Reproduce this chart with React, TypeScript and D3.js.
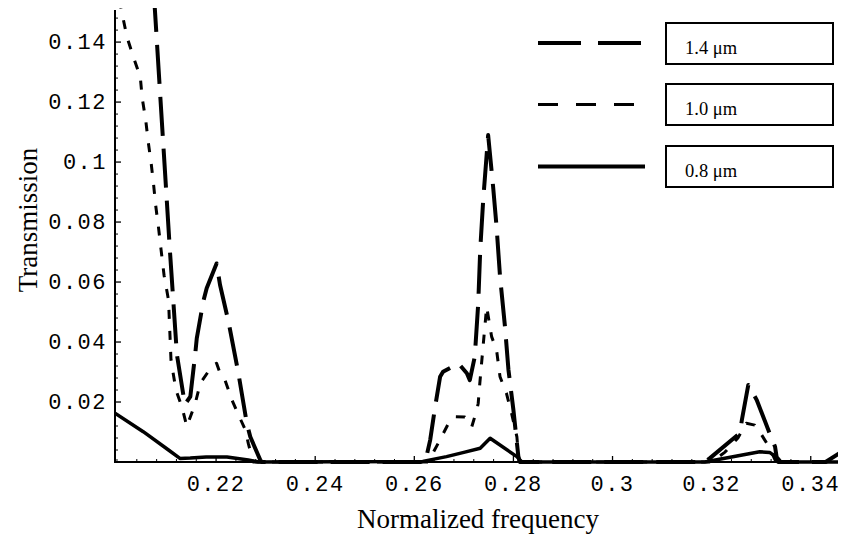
import React from 'react';
import * as d3 from 'd3';

// ---- data ----
const f14 = [0.1996, 0.2107, 0.2121, 0.2137, 0.2148, 0.2158, 0.2161, 0.2174, 0.2181, 0.2201, 0.2208, 0.2225, 0.2245, 0.2262, 0.2269, 0.2289, 0.2292, 0.2622, 0.2632, 0.2642, 0.2652, 0.2658, 0.2689, 0.2706, 0.2712, 0.2722, 0.2729, 0.2733, 0.2739, 0.2749, 0.2759, 0.2766, 0.2773, 0.2783, 0.279, 0.28, 0.281, 0.2813, 0.3186, 0.3196, 0.3257, 0.3261, 0.3274, 0.3291, 0.3317, 0.3328, 0.3332, 0.3334, 0.343, 0.3462];
const t14 = [0.364, 0.070, 0.0357, 0.0192, 0.0218, 0.0362, 0.0412, 0.0534, 0.0579, 0.0662, 0.059, 0.0468, 0.0296, 0.0129, 0.0084, 0.0007, 0, 0, 0.0073, 0.0184, 0.0284, 0.0301, 0.0329, 0.0296, 0.0273, 0.0351, 0.0529, 0.0707, 0.0873, 0.109, 0.0918, 0.0784, 0.0618, 0.0451, 0.0307, 0.0173, 0.0018, 0, 0, 0.0012, 0.0096, 0.014, 0.0257, 0.0207, 0.0096, 0.0051, 0.0007, 0, 0, 0.0034];

const f10 = [0.1996, 0.2011, 0.2020, 0.2033, 0.2047, 0.2051, 0.2058, 0.2063, 0.2069, 0.2074, 0.2078, 0.2084, 0.2089, 0.2095, 0.2104, 0.2109, 0.2119, 0.2131, 0.2141, 0.2158, 0.2168, 0.2191, 0.2201, 0.2208, 0.2218, 0.2232, 0.2248, 0.2259, 0.2265, 0.2275, 0.2628, 0.2648, 0.2655, 0.2669, 0.2682, 0.2702, 0.2716, 0.2726, 0.2729, 0.2731, 0.2739, 0.2746, 0.2756, 0.2766, 0.2773, 0.2786, 0.2797, 0.2807, 0.2811, 0.2813, 0.32, 0.3227, 0.3253, 0.327, 0.3287, 0.3301, 0.3317, 0.3328, 0.3332];
const t10 = [0.161, 0.149, 0.1418, 0.1351, 0.1284, 0.1212, 0.114, 0.1068, 0.0996, 0.0923, 0.0857, 0.0779, 0.0707, 0.0623, 0.054, 0.034, 0.024, 0.0184, 0.0118, 0.0196, 0.0262, 0.0318, 0.0329, 0.0296, 0.0273, 0.0207, 0.0147, 0.0107, 0.0062, 0, 0, 0.0062, 0.0084, 0.0129, 0.0151, 0.015, 0.0118, 0.0173, 0.0196, 0.024, 0.039, 0.0518, 0.0418, 0.0373, 0.0284, 0.0229, 0.0157, 0.0084, 0.0007, 0, 0, 0.0033, 0.008, 0.0129, 0.0123, 0.009, 0.0047, 0.0007, 0];

const f08 = [0.1996, 0.2053, 0.2104, 0.2127, 0.2148, 0.218, 0.2222, 0.2265, 0.2285, 0.2617, 0.2665, 0.2702, 0.2733, 0.2753, 0.2807, 0.2817, 0.3186, 0.3297, 0.3317, 0.3334, 0.334, 0.3455];
const t08 = [0.0163, 0.0101, 0.004, 0.0012, 0.0013, 0.0017, 0.0017, 0.0007, 0, 0.0002, 0.0018, 0.0033, 0.0046, 0.0079, 0.0018, 0, 0, 0.0034, 0.0032, 0.0012, 0, 0];

const xTicks = [0.22, 0.24, 0.26, 0.28, 0.3, 0.32, 0.34];
const xTickLabels = ['0.22', '0.24', '0.26', '0.28', '0.3', '0.32', '0.34'];
const yTicks = [0.02, 0.04, 0.06, 0.08, 0.1, 0.12, 0.14];
const yTickLabels = ['0.02', '0.04', '0.06', '0.08', '0.1', '0.12', '0.14'];

const seriesNames = ['1.4 \u03bcm', '1.0 \u03bcm', '0.8 \u03bcm'];

export default function App() {
  const W = 842, H = 538;
  const L = 115, R = 838, T = 10, B = 462;
  const x = d3.scaleLinear().domain([0.1996, 0.3455]).range([L, R]);
  const y = d3.scaleLinear().domain([0, 0.1507]).range([B, T]);
  const line = d3.line<[number, number]>().x(d => x(d[0])).y(d => y(d[1]));

  const s14 = f14.map((f, i) => [f, t14[i]] as [number, number]);
  const s10 = f10.map((f, i) => [f, t10[i]] as [number, number]);
  const s08 = f08.map((f, i) => [f, t08[i]] as [number, number]);

  const xMinor = d3.range(0, 37).map(i => 0.2 + i * 0.004).filter(v => v <= 0.3455 && !xTicks.some(t => Math.abs(t - v) < 1e-6));
  const yMinor = d3.range(0, 38).map(i => i * 0.004).filter(v => v <= 0.15 && v > 0 && !yTicks.some(t => Math.abs(t - v) < 1e-6));

  const mono = '"Liberation Mono", "DejaVu Sans Mono", monospace';
  const serif = '"Liberation Serif", "DejaVu Serif", serif';

  const styles = [
    { dash: '39 13', w: 4 },
    { dash: '9 12', w: 3 },
    { dash: null, w: 3.5 },
  ];
  const legendDash = ['43 17', '20 18', null];
  const legendY = [43, 104.5, 166.5];
  const boxY = [23, 84, 146];

  return (
    <svg width={W} height={H} style={{ position: 'absolute', left: 0, top: 0, background: '#fff' }}>
      <rect x={0} y={0} width={W} height={H} fill="#fff" />
      <defs>
        <clipPath id="plotClip">
          <rect x={L} y={T - 2} width={R - L} height={B - T + 6} />
        </clipPath>
      </defs>

      {/* curves */}
      <g clipPath="url(#plotClip)" fill="none" stroke="#000" strokeLinejoin="round">
        <path d={line(s08) || ''} strokeWidth={styles[2].w} />
        <path d={line(s10) || ''} strokeWidth={styles[1].w} strokeDasharray={styles[1].dash as string} />
        <path d={line(s14) || ''} strokeWidth={styles[0].w} strokeDasharray={styles[0].dash as string} />
      </g>

      {/* axes */}
      <line x1={L} x2={L} y1={T} y2={B + 1} stroke="#000" strokeWidth={2} />
      <line x1={L - 1} x2={R} y1={B} y2={B} stroke="#000" strokeWidth={2} />

      {/* x ticks */}
      {xTicks.map((v, i) => (
        <g key={'xt' + i}>
          <line x1={x(v)} x2={x(v)} y1={B} y2={B - 6} stroke="#000" strokeWidth={1.3} />
          <text x={x(v)} y={491} textAnchor="middle" fontFamily={mono} fontSize={22} letterSpacing={1.5}>{xTickLabels[i]}</text>
        </g>
      ))}
      {xMinor.map((v, i) => (
        <line key={'xm' + i} x1={x(v)} x2={x(v)} y1={B} y2={B - 3} stroke="#000" strokeWidth={1} />
      ))}

      {/* y ticks */}
      {yTicks.map((v, i) => (
        <g key={'yt' + i}>
          <line x1={L} x2={L + 6} y1={y(v)} y2={y(v)} stroke="#000" strokeWidth={1.3} />
          <text x={107} y={y(v) + 7} textAnchor="end" fontFamily={mono} fontSize={22} letterSpacing={1.5}>{yTickLabels[i]}</text>
        </g>
      ))}
      {yMinor.map((v, i) => (
        <line key={'ym' + i} x1={L} x2={L + 3} y1={y(v)} y2={y(v)} stroke="#000" strokeWidth={1} />
      ))}

      {/* axis labels */}
      <text x={478} y={528} textAnchor="middle" fontFamily={serif} fontSize={27}>Normalized frequency</text>
      <text transform="translate(37,220) rotate(-90)" textAnchor="middle" fontFamily={serif} fontSize={27}>Transmission</text>

      {/* legend */}
      {seriesNames.map((name, i) => (
        <g key={'lg' + i}>
          <line x1={538} x2={i === 1 ? 636 : i === 0 ? 641 : 645} y1={legendY[i]} y2={legendY[i]} stroke="#000"
            strokeWidth={i === 1 ? 3 : 4} strokeDasharray={legendDash[i] || undefined} />
          <rect x={666} y={boxY[i]} width={167} height={41} fill="#fff" stroke="#000" strokeWidth={2} />
          <text x={685} y={boxY[i] + 31} fontFamily={serif} fontSize={18.5}>{name}</text>
        </g>
      ))}
    </svg>
  );
}
